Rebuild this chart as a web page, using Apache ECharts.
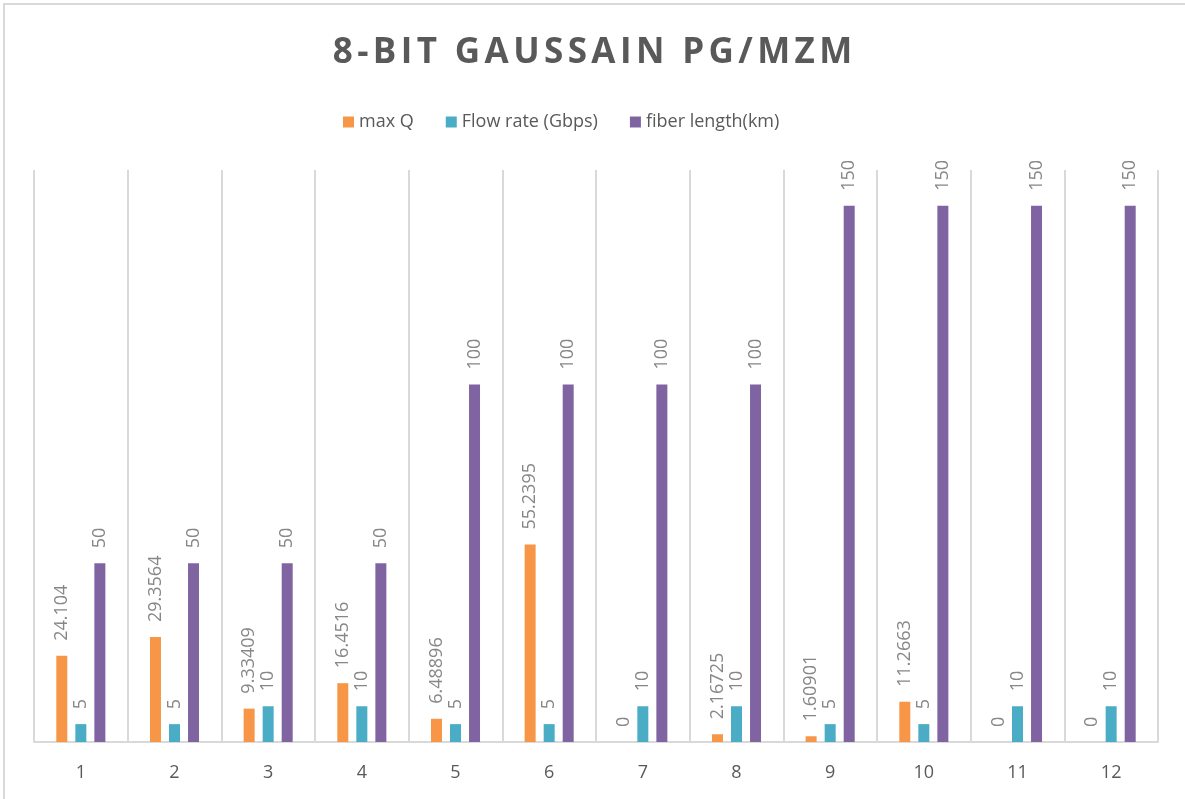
<!DOCTYPE html>
<html>
<head>
<meta charset="utf-8">
<script src="https://cdn.jsdelivr.net/npm/echarts@6/dist/echarts.min.js"></script>
<style>
  html, body { margin: 0; padding: 0; background: #fff; }
  #chart { width: 1185px; height: 799px; }
</style>
</head>
<body>
<div id="chart"></div>
<script>
// Category labels along the x axis
const categories = ['1', '2', '3', '4', '5', '6', '7', '8', '9', '10', '11', '12'];

// Series values
const maxQ = [24.104, 29.3564, 9.33409, 16.4516, 6.48896, 55.2395, 0, 2.16725, 1.60901, 11.2663, 0, 0];
const flowRate = [5, 5, 10, 10, 5, 5, 10, 10, 5, 5, 10, 10];
const fiberLength = [50, 50, 50, 50, 100, 100, 100, 100, 150, 150, 150, 150];

const seriesNames = ['max Q', 'Flow rate (Gbps)', 'fiber length(km)'];
const colors = ['#F79646', '#4BACC6', '#8064A2'];
const titleText = '8-BIT GAUSSAIN PG/MZM';

// Spread the title letters apart: each character becomes a padded rich-text token
const spacedTitle = Array.from(titleText).map(ch => '{c|' + ch + '}').join('');

const chart = echarts.init(document.getElementById('chart'));

function barSeries(name, data, color) {
  return {
    name: name,
    type: 'bar',
    data: data,
    barWidth: 11,
    barGap: '73%',
    itemStyle: { color: color },
    label: {
      show: true,
      position: 'top',
      rotate: 90,
      align: 'left',
      verticalAlign: 'middle',
      distance: 15,
      color: '#878787',
      fontFamily: 'Open Sans',
      fontSize: 18,
      formatter: p => String(p.value)
    }
  };
}

chart.setOption({
  animation: false,
  backgroundColor: '#fff',
  title: {
    text: spacedTitle,
    left: 'center',
    top: 31,
    textStyle: {
      color: '#595959',
      fontFamily: 'Open Sans',
      fontWeight: 'bold',
      fontSize: 35,
      rich: {
        c: {
          color: '#595959',
          fontFamily: 'Open Sans',
          fontWeight: 'bold',
          fontSize: 35,
          padding: [0, 2.2, 0, 2.2]
        }
      }
    }
  },
  legend: {
    top: 108,
    left: 338,
    itemWidth: 11,
    itemHeight: 11,
    itemGap: 32,
    icon: 'rect',
    textStyle: { color: '#595959', fontFamily: 'Open Sans', fontSize: 18 },
    data: seriesNames
  },
  grid: { left: 34, right: 27, top: 170, bottom: 57 },
  xAxis: {
    type: 'category',
    data: categories,
    boundaryGap: true,
    axisLine: { lineStyle: { color: '#d9d9d9', width: 2 } },
    axisTick: { show: false },
    axisLabel: { color: '#595959', fontFamily: 'Open Sans', fontSize: 18, margin: 22 },
    splitLine: { show: true, interval: 0, lineStyle: { color: '#d9d9d9', width: 2 } }
  },
  yAxis: {
    type: 'value',
    min: 0,
    max: 160,
    interval: 20,
    show: false,
    splitLine: { show: false }
  },
  graphic: [{
    type: 'polyline',
    shape: { points: [[4, 799], [4, 4], [1185, 4]] },
    style: { stroke: '#d9d9d9', lineWidth: 2, fill: null },
    silent: true
  }],
  series: [
    barSeries(seriesNames[0], maxQ, colors[0]),
    barSeries(seriesNames[1], flowRate, colors[1]),
    barSeries(seriesNames[2], fiberLength, colors[2])
  ]
});
</script>
</body>
</html>
